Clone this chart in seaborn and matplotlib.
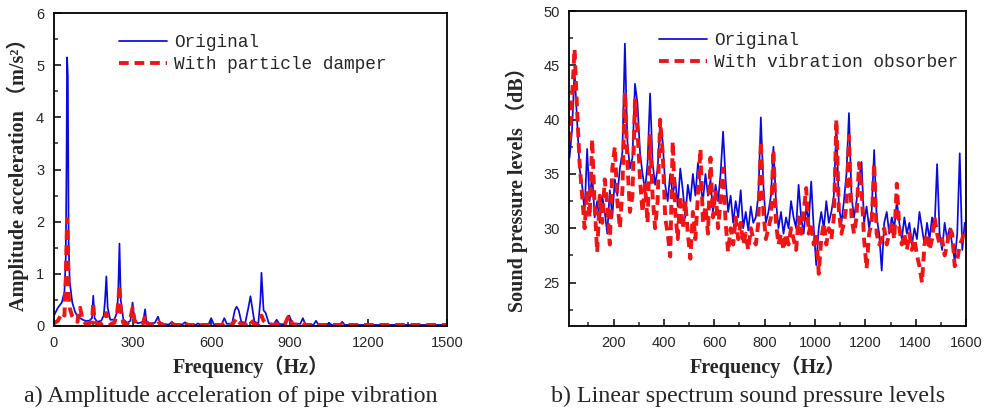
import numpy as np
import pandas as pd
import matplotlib
matplotlib.use("Agg")
import matplotlib.pyplot as plt
import seaborn as sns
from matplotlib.ticker import MultipleLocator

# ---- a) amplitude acceleration of pipe vibration ----
freq_a = [0, 15, 30, 40, 45, 48, 50, 53, 56, 60,
          70, 80, 90, 95, 100, 110, 120, 135, 145, 150,
          155, 165, 180, 190, 195, 200, 205, 215, 230, 240,
          245, 250, 255, 265, 280, 292, 300, 308, 320, 340,
          348, 352, 365, 385, 397, 403, 420, 440, 450, 460,
          490, 500, 510, 540, 550, 560, 590, 600, 610, 640,
          650, 660, 680, 690, 697, 705, 715, 730, 742, 750,
          765, 780, 788, 792, 800, 808, 820, 840, 850, 860,
          880, 892, 898, 910, 940, 950, 960, 990, 1000, 1010,
          1040, 1050, 1060, 1090, 1100, 1110, 1150, 1200, 1250, 1300,
          1350, 1400, 1450, 1500]

acc_original = [0.20, 0.35, 0.45, 0.65, 1.30, 3.10, 5.15, 4.80, 1.60, 0.85,
                0.45, 0.28, 0.18, 0.16, 0.15, 0.12, 0.10, 0.10, 0.15, 0.58,
                0.15, 0.08, 0.10, 0.20, 0.50, 0.95, 0.35, 0.12, 0.12, 0.25,
                0.60, 1.58, 0.50, 0.12, 0.06, 0.10, 0.45, 0.10, 0.05, 0.08,
                0.32, 0.10, 0.05, 0.06, 0.18, 0.08, 0.03, 0.03, 0.08, 0.03,
                0.03, 0.07, 0.03, 0.02, 0.05, 0.02, 0.03, 0.15, 0.03, 0.03,
                0.15, 0.04, 0.05, 0.30, 0.37, 0.30, 0.08, 0.06, 0.35, 0.57,
                0.08, 0.05, 0.50, 1.02, 0.30, 0.25, 0.05, 0.04, 0.12, 0.04,
                0.03, 0.18, 0.20, 0.05, 0.04, 0.15, 0.03, 0.02, 0.10, 0.02,
                0.02, 0.06, 0.02, 0.02, 0.08, 0.02, 0.02, 0.02, 0.02, 0.02,
                0.02, 0.02, 0.02, 0.02]

acc_damper = [0.05, 0.10, 0.25, 0.20, 0.90, 1.60, 2.05, 1.70, 0.60, 0.35,
              0.18, 0.10, 0.08, 0.30, 0.35, 0.10, 0.05, 0.05, 0.10, 0.45,
              0.08, 0.04, 0.04, 0.08, 0.15, 0.25, 0.12, 0.04, 0.06, 0.20,
              0.45, 0.78, 0.30, 0.05, 0.04, 0.15, 0.35, 0.10, 0.03, 0.05,
              0.20, 0.06, 0.03, 0.03, 0.10, 0.05, 0.02, 0.02, 0.05, 0.02,
              0.02, 0.06, 0.02, 0.02, 0.05, 0.02, 0.02, 0.04, 0.02, 0.02,
              0.06, 0.02, 0.02, 0.10, 0.15, 0.08, 0.03, 0.03, 0.10, 0.12,
              0.03, 0.04, 0.15, 0.20, 0.10, 0.06, 0.03, 0.02, 0.04, 0.02,
              0.02, 0.15, 0.20, 0.03, 0.02, 0.06, 0.02, 0.02, 0.04, 0.02,
              0.02, 0.03, 0.02, 0.02, 0.03, 0.02, 0.02, 0.02, 0.02, 0.02,
              0.02, 0.02, 0.02, 0.02]

# ---- b) linear spectrum sound pressure levels (10 Hz steps from 25 Hz) ----
freq_b = np.arange(25, 1600, 10)

spl_original = [36.5, 39.0, 44.5, 40.0, 35.5, 34.0, 31.5, 37.3, 32.5, 35.0,
                31.0, 32.5, 30.5, 33.0, 31.5, 29.5, 33.5, 31.0, 34.5, 33.0,
                35.5, 37.0, 47.0, 38.0, 35.5, 36.5, 43.3, 41.5, 37.0, 35.0,
                33.5, 36.0, 42.4, 36.0, 34.0, 35.5, 39.8, 38.0, 34.0, 32.5,
                35.0, 33.0, 34.5, 32.0, 35.5, 33.5, 31.0, 34.0, 32.5, 35.0,
                33.0, 36.0, 34.0, 32.5, 35.0, 33.0, 34.5, 31.5, 34.0, 32.5,
                35.0, 38.9, 34.5, 31.5, 33.0, 30.5, 32.5, 31.0, 33.5, 30.0,
                31.5, 29.8, 32.0, 30.5, 31.0, 33.0, 40.2, 34.0, 30.5, 31.5,
                33.0, 37.5, 32.5, 30.0, 31.5, 29.5, 31.0, 30.0, 32.5, 31.0,
                30.0, 34.0, 31.0, 29.5, 32.0, 30.5, 34.3, 30.0, 26.6, 30.0,
                31.5, 30.0, 32.5, 30.5, 31.5, 33.0, 39.5, 32.0, 30.5, 32.5,
                35.0, 40.6, 33.0, 31.0, 32.5, 34.5, 36.1, 30.5, 32.0, 30.0,
                31.5, 37.2, 31.0, 29.5, 26.1, 30.5, 31.5, 29.5, 31.0, 30.0,
                32.5, 30.5, 29.0, 31.0, 29.5, 30.5, 28.5, 30.0, 29.0, 31.5,
                30.0, 28.5, 30.5, 29.0, 31.0, 30.0, 35.9, 29.5, 28.0, 30.5,
                29.0, 30.0, 28.5, 27.0, 29.5, 36.9, 28.0, 30.5]

spl_absorber = [38.0, 42.0, 46.5, 41.0, 36.0, 33.0, 30.0, 33.5, 31.0, 38.2,
                32.0, 27.8, 33.0, 30.5, 34.5, 32.0, 28.5, 35.5, 37.5, 32.5,
                30.0, 33.5, 42.5, 36.0, 31.5, 33.0, 41.8, 39.0, 34.5, 31.5,
                34.0, 30.5, 38.5, 33.0, 30.0, 32.5, 40.0, 37.0, 31.0, 29.5,
                27.4, 38.0, 31.5, 29.0, 33.0, 30.0, 32.5, 29.5, 27.2, 31.5,
                29.0, 33.0, 37.3, 30.5, 32.0, 29.5, 36.5, 31.0, 33.5, 30.0,
                32.5, 35.5, 30.5, 27.8, 30.0, 28.5, 31.0, 29.0, 30.5, 28.5,
                29.5, 28.0, 30.0, 29.0, 28.5, 30.5, 38.0, 31.5, 29.0, 30.0,
                31.0, 37.2, 30.5, 28.5, 29.5, 28.0, 29.5, 28.5, 30.0, 29.0,
                28.0, 31.0, 29.5, 31.5, 33.7, 29.5, 30.5, 28.5, 29.5, 25.8,
                29.0, 30.5, 28.5, 30.0, 29.0, 31.0, 40.0, 31.5, 29.5, 30.5,
                32.0, 38.5, 31.0, 29.5, 31.0, 36.0, 33.5, 29.0, 26.3, 29.5,
                30.5, 36.0, 29.5, 28.5, 29.0, 30.0, 28.5, 29.5, 30.5, 29.0,
                34.1, 30.0, 28.5, 29.5, 28.0, 29.5, 28.0, 29.0, 27.5, 26.5,
                25.0, 28.5, 29.5, 28.0, 29.0, 31.0, 29.5, 28.5, 29.0, 27.5,
                28.5, 30.0, 29.5, 26.5, 27.0, 28.5, 29.0, 30.0]

BLUE = "#0a0adc"
RED = "#f01414"
DASH = (0, (2.5, 1.5))

sns.set_style("ticks")
plt.rcParams["font.family"] = ["Liberation Sans", "DejaVu Sans"]
plt.rcParams["axes.linewidth"] = 1.3
label_font = ["Liberation Serif", "Noto Sans CJK SC"]

fig = plt.figure(figsize=(9.9, 4.08), dpi=100)
ax1 = fig.add_axes([0.0545, 0.201, 0.397, 0.767])
ax2 = fig.add_axes([0.575, 0.201, 0.4008, 0.772])

df_a = pd.DataFrame({"freq": freq_a, "orig": acc_original, "damp": acc_damper})
sns.lineplot(data=df_a, x="freq", y="orig", ax=ax1, color=BLUE, lw=1.25,
             label="Original", estimator=None, sort=False)
sns.lineplot(data=df_a, x="freq", y="damp", ax=ax1, color=RED, lw=2.8,
             ls=DASH, label="With particle damper", estimator=None, sort=False)

df_b = pd.DataFrame({"freq": freq_b, "orig": spl_original, "abs": spl_absorber})
sns.lineplot(data=df_b, x="freq", y="orig", ax=ax2, color=BLUE, lw=1.25,
             label="Original", estimator=None, sort=False)
sns.lineplot(data=df_b, x="freq", y="abs", ax=ax2, color=RED, lw=2.8,
             ls=DASH, label="With vibration obsorber", estimator=None, sort=False)

ax1.set_xlim(0, 1500)
ax1.set_ylim(0, 6)
ax1.xaxis.set_major_locator(MultipleLocator(300))
ax1.xaxis.set_minor_locator(MultipleLocator(150))
ax1.yaxis.set_major_locator(MultipleLocator(1))
ax1.yaxis.set_minor_locator(MultipleLocator(0.5))

ax2.set_xlim(24, 1600)
ax2.set_ylim(21, 50)
ax2.xaxis.set_major_locator(MultipleLocator(200))
ax2.xaxis.set_minor_locator(MultipleLocator(100))
ax2.yaxis.set_major_locator(MultipleLocator(5))
ax2.yaxis.set_minor_locator(MultipleLocator(2.5))

for ax, lx in ((ax1, 0.125), (ax2, 0.185)):
    for s in ax.spines.values():
        s.set_visible(True)
        s.set_color("black")
    ax.tick_params(which="major", direction="in", length=5, width=1.3,
                   labelsize=10.5, pad=7, top=False, right=False)
    ax.tick_params(which="minor", direction="in", length=3, width=1.1,
                   top=False, right=False)
    ax.set_xlabel("Frequency（Hz）", family=label_font, fontweight="bold",
                  fontsize=14.5, labelpad=4)
    ax.legend(loc="upper left", bbox_to_anchor=(lx, 0.985), frameon=False,
              prop={"family": "Liberation Mono", "size": 12.8},
              handlelength=2.7, handletextpad=0.4, labelspacing=0.3)

ax1.set_ylabel("Amplitude acceleration （m/s²）", family=label_font,
               fontweight="bold", fontsize=14.5, labelpad=5)
ax2.set_ylabel("Sound pressure levels （dB）", family=label_font,
               fontweight="bold", fontsize=14.5, labelpad=5)
ax2.yaxis.set_label_coords(-0.105, 0.45)

fig.text(0.233, 0.028, "a) Amplitude acceleration of pipe vibration",
         family="Liberation Serif", fontsize=17.3, ha="center", va="center")
fig.text(0.756, 0.028, "b) Linear spectrum sound pressure levels",
         family="Liberation Serif", fontsize=17.3, ha="center", va="center")

fig.savefig("out.png", dpi=100)
